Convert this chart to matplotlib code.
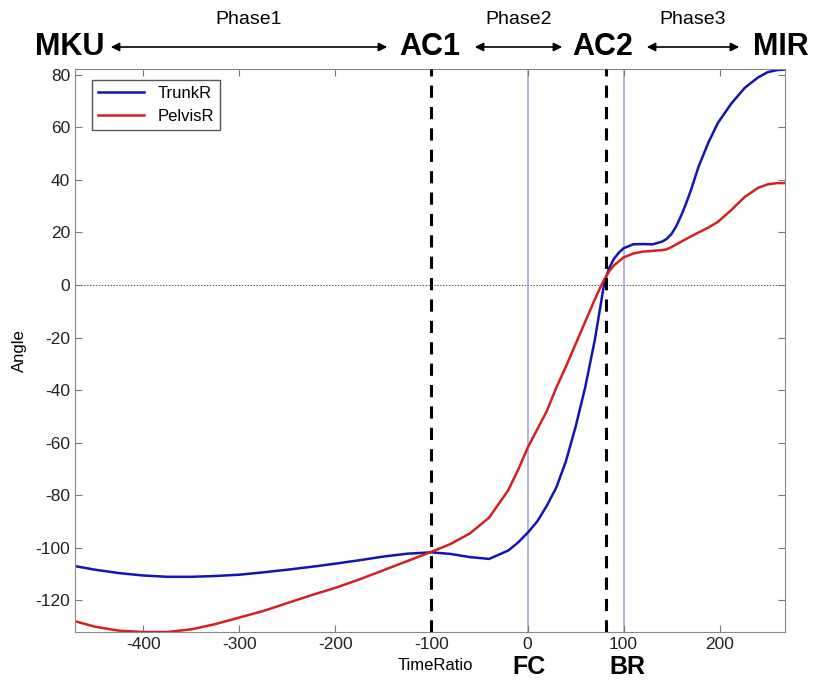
import matplotlib
matplotlib.use('Agg')
import matplotlib.pyplot as plt
from matplotlib import font_manager

# Data
time_ratio = [-470, -450, -425, -400, -375, -350, -325, -300, -275, -250,
              -225, -200, -175, -150, -125, -100, -80, -60, -40, -20,
              -10, 0, 10, 20, 30, 40, 50, 60, 70, 75,
              80, 85, 90, 95, 100, 110, 120, 130, 140, 145,
              150, 155, 160, 165, 170, 178, 188, 198, 212, 226,
              240, 250, 260, 268]
trunk_r = [-107, -108.3, -109.6, -110.5, -111, -111, -110.7, -110.2, -109.3, -108.3,
           -107.2, -106, -104.7, -103.3, -102.2, -101.7, -102.3, -103.5, -104.2, -101,
           -98, -94.3, -90, -84, -77, -67, -54, -39, -21, -10,
           1, 6.5, 10, 12.3, 14, 15.5, 15.6, 15.5, 16.5, 17.6,
           19.5, 22.5, 26.5, 31, 36, 45, 54, 61.6, 69, 75,
           79, 81, 81.8, 82]
pelvis_r = [-128, -130, -131.5, -132, -132, -131, -129, -126.5, -124, -121,
            -118, -115.2, -112, -108.5, -105, -101.5, -98.5, -94.5, -88.5, -78,
            -70.5, -62, -55, -48, -39, -31, -22.5, -14, -5.5, -1.5,
            2.2, 5.2, 7.5, 9, 10.5, 12, 12.7, 13, 13.3, 13.6,
            14.5, 15.5, 16.5, 17.5, 18.5, 20, 21.8, 24, 28.5, 33.5,
            37, 38.3, 38.8, 38.8]

events = [-100, 82]        # AC1, AC2 (dashed)
markers = [0, 100]         # FC, BR (thin lines)
phase_names = ['Phase1', 'Phase2', 'Phase3']
event_names = ['MKU', 'AC1', 'AC2', 'MIR']

names = {f.name for f in font_manager.fontManager.ttflist}
narrow = 'Liberation Sans Narrow' if 'Liberation Sans Narrow' in names else 'Liberation Sans'
plt.rcParams['font.family'] = [narrow, 'DejaVu Sans']
plt.rcParams['axes.unicode_minus'] = False

fig = plt.figure(figsize=(8.13, 6.8), dpi=100)
ax = fig.add_axes([75/813, 1 - 632/680, 710/813, 563/680])

ax.axhline(0, color='#555555', lw=0.7, ls=(0, (1.5, 1.5)), zorder=1)
for m in markers:
    ax.axvline(m, color='#a8a8d8', lw=1.2, zorder=1)
for e in events:
    ax.axvline(e, color='black', lw=2.2, ls=(0, (4, 3)), zorder=3)

ax.plot(time_ratio, trunk_r, color='#1414b4', lw=1.8, label='TrunkR', zorder=2)
ax.plot(time_ratio, pelvis_r, color='#d42020', lw=1.8, label='PelvisR', zorder=2)

ax.set_xlim(-471, 268)
ax.set_ylim(-132, 82.2)
ax.set_xticks([-400, -300, -200, -100, 0, 100, 200])
ax.set_yticks(range(-120, 81, 20))
ax.tick_params(direction='in', top=True, right=True, labelsize=12.5, length=5,
               color='#777777', labelcolor='#222222')
for lab in ax.get_xticklabels() + ax.get_yticklabels():
    lab.set_family(['Liberation Sans', 'DejaVu Sans'])
for s in ax.spines.values():
    s.set_color('#888888')

leg = ax.legend(loc='upper left', fontsize=12, fancybox=False, framealpha=1,
                edgecolor='#555555', handlelength=2.8, borderpad=0.35,
                bbox_to_anchor=(0.012, 0.995))

ax.set_ylabel('Angle', fontsize=12, labelpad=6)
fig.text(435/813, 1 - 666/680, 'TimeRatio', fontsize=12, ha='center', va='center')
fig.text(529/813, 1 - 667/680, 'FC', fontsize=18, fontweight='bold', ha='center', va='center')
fig.text(627/813, 1 - 667/680, 'BR', fontsize=18, fontweight='bold', ha='center', va='center')

# Event labels and phase arrows above the axes
ev_x = [70, 430, 603, 781]
for name, xp in zip(event_names, ev_x):
    fig.text(xp/813, 1 - 47/680, name, fontsize=22, fontweight='bold', ha='center', va='center')
arrows = [(108, 390), (472, 565), (644, 742)]
for (x0, x1), ph in zip(arrows, phase_names):
    fig.add_artist(matplotlib.patches.FancyArrowPatch(
        (x0/813, 1 - 47/680), (x1/813, 1 - 47/680), transform=fig.transFigure,
        arrowstyle='<|-|>,head_length=5,head_width=2.5', color='black', lw=1.2))
    fig.text((x0 + x1)/2/813, 1 - 20/680, ph, fontsize=14, ha='center', va='center')

fig.savefig('out.png', dpi=100)
